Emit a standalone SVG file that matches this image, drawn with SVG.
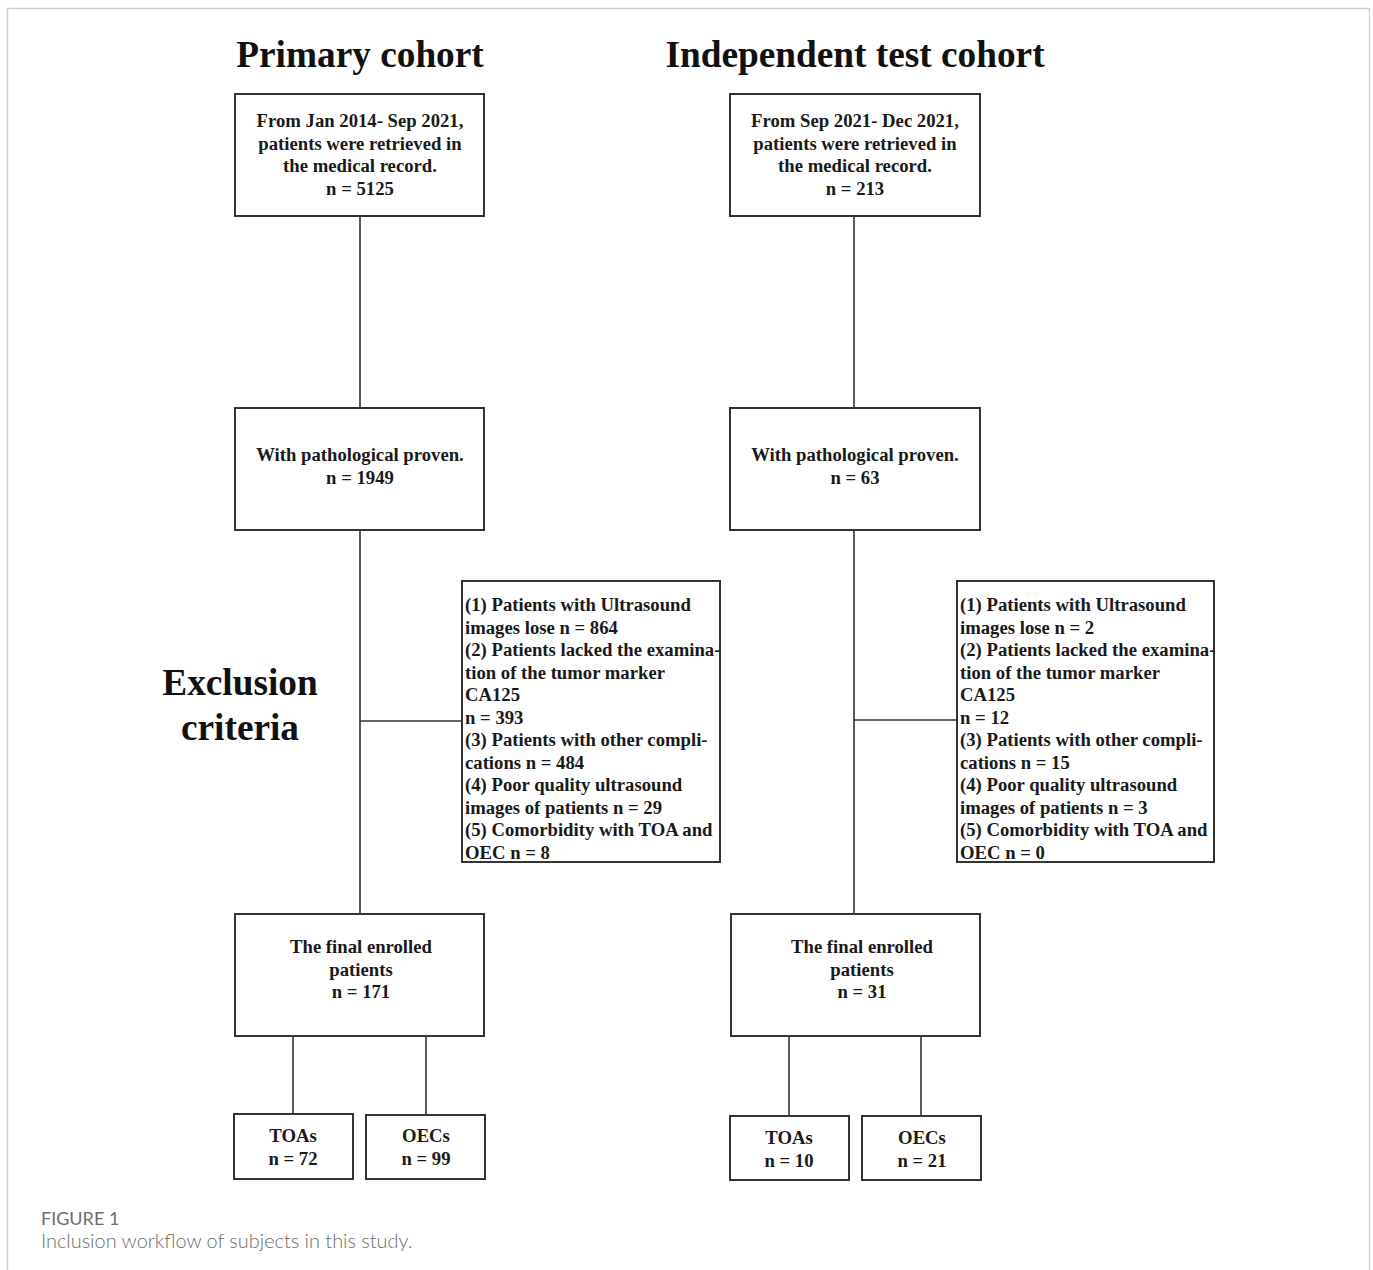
<svg xmlns="http://www.w3.org/2000/svg" width="1373" height="1270" viewBox="0 0 1373 1270">
<style>
.box{fill:#fff;stroke:#333;stroke-width:2}
.ln{stroke:#333;stroke-width:1.6;fill:none}
.t{font-family:"Liberation Serif","Times New Roman",serif;font-weight:bold;font-size:18.7px;fill:#1a1a1a}
.c{text-anchor:middle}
.h{font-family:"Liberation Serif","Times New Roman",serif;font-weight:bold;font-size:37.3px;fill:#111;text-anchor:middle}
.cap1{font-family:Lato,"Open Sans",sans-serif;font-size:18px;fill:#6d6d6d}
.cap2{font-family:Lato,"Open Sans",sans-serif;font-weight:300;font-size:19.9px;fill:#6d6d6d}
</style>
<rect x="7.5" y="8.5" width="1362" height="1300" fill="#fff" stroke="#d0d0d0" stroke-width="1.5"/>
<text class="h" x="360" y="67">Primary cohort</text>
<text class="h" x="855" y="67">Independent test cohort</text>
<text class="h" x="240" y="695">Exclusion</text>
<text class="h" x="240" y="740">criteria</text>
<g id="connectors">
<line class="ln" x1="360" y1="216" x2="360" y2="408"/>
<line class="ln" x1="360" y1="530" x2="360" y2="914"/>
<line class="ln" x1="360" y1="721" x2="462" y2="721"/>
<line class="ln" x1="293" y1="1036" x2="293" y2="1114"/>
<line class="ln" x1="426" y1="1036" x2="426" y2="1115"/>
<line class="ln" x1="854" y1="216" x2="854" y2="408"/>
<line class="ln" x1="854" y1="530" x2="854" y2="914"/>
<line class="ln" x1="854" y1="720" x2="957" y2="720"/>
<line class="ln" x1="789" y1="1036" x2="789" y2="1116"/>
<line class="ln" x1="921" y1="1036" x2="921" y2="1116"/>
</g>
<g id="p1">
<rect class="box" x="235" y="94" width="249" height="122"/>
<text class="t c" x="360" y="127">From Jan 2014- Sep 2021,</text>
<text class="t c" x="360" y="149.5">patients were retrieved in</text>
<text class="t c" x="360" y="172">the medical record.</text>
<text class="t c" x="360" y="194.5">n = 5125</text>
</g>
<g id="p2">
<rect class="box" x="235" y="408" width="249" height="122"/>
<text class="t c" x="360" y="461">With pathological proven.</text>
<text class="t c" x="360" y="483.5">n = 1949</text>
</g>
<g id="pex">
<rect class="box" x="462" y="581" width="258" height="281"/>
<text class="t" x="465" y="611">(1) Patients with Ultrasound</text>
<text class="t" x="465" y="633.5">images lose n = 864</text>
<text class="t" x="465" y="656">(2) Patients lacked the examina-</text>
<text class="t" x="465" y="678.5">tion of the tumor marker</text>
<text class="t" x="465" y="701">CA125</text>
<text class="t" x="465" y="723.5">n = 393</text>
<text class="t" x="465" y="746">(3) Patients with other compli-</text>
<text class="t" x="465" y="768.5">cations n = 484</text>
<text class="t" x="465" y="791">(4) Poor quality ultrasound</text>
<text class="t" x="465" y="813.5">images of patients n = 29</text>
<text class="t" x="465" y="836">(5) Comorbidity with TOA and</text>
<text class="t" x="465" y="858.5">OEC n = 8</text>
</g>
<g id="p3">
<rect class="box" x="235" y="914" width="249" height="122"/>
<text class="t c" x="361" y="953">The final enrolled</text>
<text class="t c" x="361" y="975.5">patients</text>
<text class="t c" x="361" y="998">n = 171</text>
</g>
<g id="ptoa">
<rect class="box" x="234" y="1114" width="119" height="65"/>
<text class="t c" x="293" y="1142">TOAs</text>
<text class="t c" x="293" y="1164.5">n = 72</text>
</g>
<g id="poec">
<rect class="box" x="366" y="1115" width="119" height="64"/>
<text class="t c" x="426" y="1142">OECs</text>
<text class="t c" x="426" y="1164.5">n = 99</text>
</g>
<g id="i1">
<rect class="box" x="730" y="94" width="250" height="122"/>
<text class="t c" x="855" y="127">From Sep 2021- Dec 2021,</text>
<text class="t c" x="855" y="149.5">patients were retrieved in</text>
<text class="t c" x="855" y="172">the medical record.</text>
<text class="t c" x="855" y="194.5">n = 213</text>
</g>
<g id="i2">
<rect class="box" x="730" y="408" width="250" height="122"/>
<text class="t c" x="855" y="461">With pathological proven.</text>
<text class="t c" x="855" y="483.5">n = 63</text>
</g>
<g id="iex">
<rect class="box" x="957" y="581" width="257" height="281"/>
<text class="t" x="960" y="611">(1) Patients with Ultrasound</text>
<text class="t" x="960" y="633.5">images lose n = 2</text>
<text class="t" x="960" y="656">(2) Patients lacked the examina-</text>
<text class="t" x="960" y="678.5">tion of the tumor marker</text>
<text class="t" x="960" y="701">CA125</text>
<text class="t" x="960" y="723.5">n = 12</text>
<text class="t" x="960" y="746">(3) Patients with other compli-</text>
<text class="t" x="960" y="768.5">cations n = 15</text>
<text class="t" x="960" y="791">(4) Poor quality ultrasound</text>
<text class="t" x="960" y="813.5">images of patients n = 3</text>
<text class="t" x="960" y="836">(5) Comorbidity with TOA and</text>
<text class="t" x="960" y="858.5">OEC n = 0</text>
</g>
<g id="i3">
<rect class="box" x="731" y="914" width="249" height="122"/>
<text class="t c" x="862" y="953">The final enrolled</text>
<text class="t c" x="862" y="975.5">patients</text>
<text class="t c" x="862" y="998">n = 31</text>
</g>
<g id="itoa">
<rect class="box" x="730" y="1116" width="119" height="64"/>
<text class="t c" x="789" y="1144">TOAs</text>
<text class="t c" x="789" y="1166.5">n = 10</text>
</g>
<g id="ioec">
<rect class="box" x="862" y="1116" width="119" height="64"/>
<text class="t c" x="922" y="1144">OECs</text>
<text class="t c" x="922" y="1166.5">n = 21</text>
</g>
<text class="cap1" x="41" y="1225">FIGURE 1</text>
<text class="cap2" x="41" y="1248">Inclusion workflow of subjects in this study.</text>
</svg>
